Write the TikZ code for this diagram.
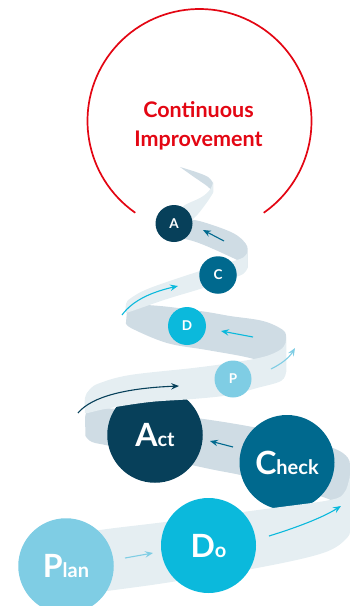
\documentclass[tikz,border=0pt]{standalone}
\usepackage{fontspec}
\setmainfont{Lato}
\usetikzlibrary{arrows.meta}
\definecolor{redc}{HTML}{E30613}
\definecolor{planc}{HTML}{7FCDE4}
\definecolor{doc}{HTML}{0BB9DC}
\definecolor{checkc}{HTML}{00698E}
\definecolor{actc}{HTML}{07405A}
\definecolor{frontc}{HTML}{E5EEF2}
\definecolor{backc}{HTML}{CFDCE4}
\begin{document}
\begin{tikzpicture}[x=1pt,y=-1pt,
  frontband/.style={fill=frontc},
  backband/.style={fill=backc},
  bigc/.style={circle,inner sep=0pt,text=white,font=\bfseries},
  smallc/.style={circle,inner sep=0pt,text=white,font=\fontsize{13.5}{13.5}\selectfont\bfseries},
  arr/.style={line width=1.1pt,-{Stealth[length=8pt,width=6.5pt,inset=3pt]}},
  redtxt/.style={text=redc,font=\fontsize{21.5}{21.5}\selectfont\bfseries,inner sep=0pt,anchor=base}]
\useasboundingbox (0,0) rectangle (350,606);

% ---- red arc and title
\draw[redc,line width=1.7pt] (199.5,121) ++(125:112) arc[start angle=125,end angle=415,radius=112];
\node[redtxt] (ci1) at (198.5,117) {Continuous};
\node[redtxt] (ci2) at (198.5,146) {Improvement};

% ---- back bands
\fill[backband] plot[smooth,tension=0.6] coordinates {(350,469) (348,458) (333,448) (290,435) (230,423) (150,412) (100,408) (88,410) (85,418)}
  -- (85.5,436) -- plot[smooth,tension=0.6] coordinates {(85.5,436) (92,442) (110,446) (160,458) (210,469) (245,476) (300,490) (340,505) (350,528)} -- cycle;
\fill[backband] plot[smooth,tension=0.6] coordinates {(286,337) (283,330) (263,321) (230,316) (207,312) (170,307) (145,305) (132,306) (127,311)}
  -- (126,322) -- plot[smooth,tension=0.6] coordinates {(126,322) (131,328) (167,343) (207,350) (250,358) (280,368) (286,372)} -- cycle;
\fill[backband] plot[smooth,tension=0.6] coordinates {(247.5,252) (246,244) (233,233) (203,222) (185,219) (165,219)}
  -- (162,236) -- plot[smooth,tension=0.6] coordinates {(162,236) (193,241) (233,258) (245,265) (247.5,268)} -- cycle;
\fill[backband] plot[smooth,tension=0.6] coordinates {(180,167) (196,172) (208,177) (213,183)}
  -- (213,192) -- plot[smooth,tension=0.6] coordinates {(213,192) (207,186) (194,177) (180,167)} -- cycle;

% ---- circles sitting on back bands
\node[bigc,fill=actc,minimum size=95.5pt] (act) at (155,435) {\fontsize{32}{32}\selectfont A\fontsize{20}{20}\selectfont ct};
\node[bigc,fill=checkc,minimum size=95pt] (check) at (287,462.5) {\fontsize{32}{32}\selectfont C\fontsize{20}{20}\selectfont heck};

% ---- front bands
\fill[frontband] plot[smooth,tension=0.6] coordinates {(40,540) (100,530) (165,522) (273,508) (330,500) (344,493) (349.5,478) (350,469)}
  -- (350,528) -- plot[smooth,tension=0.6] coordinates {(350,528) (347,538) (323,553) (257,568) (165,583) (100,592) (40,601)} -- cycle;
\fill[frontband] plot[smooth,tension=0.6] coordinates {(85,413) (85,398) (90,389) (100,383) (130,375) (193,368) (230,363) (263,357) (280,350) (285.5,343) (286,337)}
  -- (286,372) -- plot[smooth,tension=0.6] coordinates {(286,372) (281,381) (257,388) (230,395) (193,399) (150,402) (110,408) (88,413)} -- cycle;
\fill[frontband] plot[smooth,tension=0.6] coordinates {(126,313) (126,304) (131,298) (150,288) (200,271) (237,260) (245,256) (247.5,252)}
  -- (247.5,268) -- plot[smooth,tension=0.6] coordinates {(247.5,268) (243,274) (230,279) (200,289) (167,299) (135,310) (126,313)} -- cycle;
\fill[frontband] plot[smooth,tension=0.6] coordinates {(176,213) (185,205) (200,198) (208,192) (212,186) (213,181)}
  -- (213,193) -- plot[smooth,tension=0.6] coordinates {(213,193) (205,205) (193,219) (178,226)} -- cycle;

% ---- circles on front bands
\node[bigc,fill=planc,minimum size=95.5pt] (plan) at (66,566) {\fontsize{32}{32}\selectfont P\fontsize{20}{20}\selectfont lan};
\node[bigc,fill=doc,minimum size=95pt] (do) at (208.5,545.5) {\fontsize{32}{32}\selectfont D\fontsize{20}{20}\selectfont o};
\node[smallc,fill=planc,minimum size=37pt] (p) at (233,379) {P};
\node[smallc,fill=doc,minimum size=38pt] (d) at (187,326) {D};
\node[smallc,fill=checkc,minimum size=37.5pt] (c) at (218,275) {C};
\node[smallc,fill=actc,minimum size=37pt] (a) at (174,223.5) {A};

% ---- arrows
\coordinate (a1s) at (125,558); \coordinate (a1e) at (153,553);
\coordinate (a2s) at (269,536); \coordinate (a2e) at (341,506);
\coordinate (a3s) at (233,447); \coordinate (a3e) at (210,441);
\coordinate (a4s) at (78,413);  \coordinate (a4e) at (179,386);
\coordinate (a5s) at (271,369); \coordinate (a5e) at (295,348);
\coordinate (a6s) at (253,337); \coordinate (a6e) at (221,331);
\coordinate (a7s) at (122,315); \coordinate (a7e) at (178,286);
\coordinate (a8s) at (224,241); \coordinate (a8e) at (203,230);
\draw[arr,planc] (a1s) -- (a1e);
\draw[arr,doc] (a2s) .. controls (295,528) and (322,518) .. (a2e);
\draw[arr,checkc] (a3s) -- (a3e);
\draw[arr,actc] (a4s) .. controls (92,396) and (128,388) .. (a4e);
\draw[arr,planc] (a5s) .. controls (281,364) and (289,358) .. (a5e);
\draw[arr,doc] (a6s) -- (a6e);
\draw[arr,doc] (a7s) .. controls (133,300) and (152,292) .. (a7e);
\draw[arr,checkc] (a8s) -- (a8e);
\end{tikzpicture}
\end{document}
